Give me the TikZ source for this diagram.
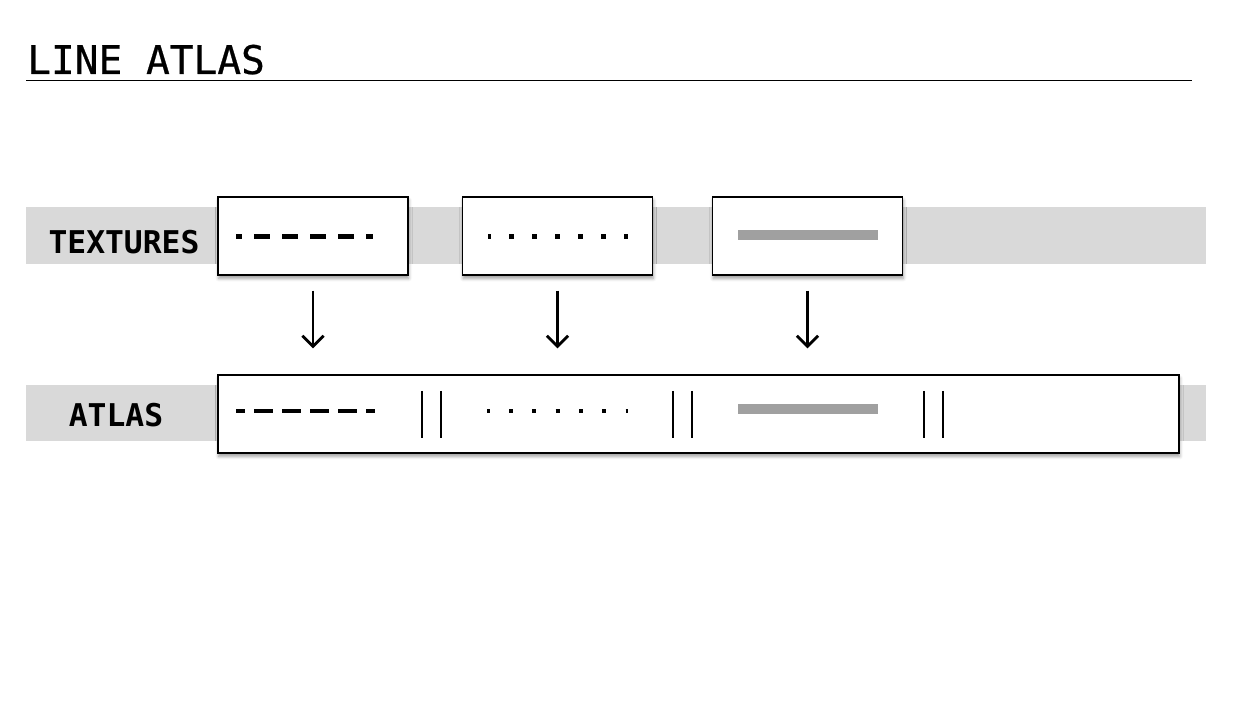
\documentclass[tikz,border=0pt]{standalone}
\usepackage{fontspec}
\setmonofont{DejaVu Sans Mono}
\newfontfamily\titlefont[FakeBold=0.6]{DejaVu Sans Mono}
\usetikzlibrary{arrows.meta}
\usetikzlibrary{shadows.blur}
\usetikzlibrary{calc}
\definecolor{bandgray}{HTML}{D9D9D9}
\definecolor{bargray}{HTML}{A0A0A0}

\begin{document}
\begin{tikzpicture}[x=0.75pt,y=0.75pt,yscale=-1,xscale=1,
  band/.style={fill=bandgray, draw=none},
  texbox/.style={draw, line width=0.9pt, fill=white, inner sep=0pt, minimum width=142.5pt, minimum height=58.5pt, blur shadow={shadow xshift=0.5pt, shadow yshift=-2.5pt, shadow blur radius=2.5pt, shadow opacity=40}},
  rowlabel/.style={anchor=base, inner sep=0pt, font=\ttfamily\bfseries\fontsize{23.5}{26}\selectfont},
  feed/.style={-{Straight Barb[length=8pt,width=16pt]}, line width=2.1pt},
  sep/.style={line width=1pt}
]
\useasboundingbox (0,0) rectangle (1240,720);
% Text Node
\draw (27,74) node [anchor=base west][inner sep=0pt] (title) {\titlefont\fontsize{29.6}{32}\selectfont LINE ATLAS};
%Straight Lines
\draw [line width=0.75pt]   (26,81) -- (1192,81) ;
%Shape: Rectangle
\fill [band] (26,207) rectangle (1206,264) ;
\fill [band] (26,385) rectangle (1206,441) ;
% Text Node
\node [rowlabel] (texlabel) at (124,254) {TEXTURES};
\node [rowlabel] (atlaslabel) at (116,427) {ATLAS};
%Shape: Rectangle
\node [texbox] (dashes) at (313,236) {};
\node [texbox] (dots) at (557.5,236) {};
\node [texbox] (solid) at (807.5,236) {};
\node [texbox, minimum width=720.75pt] (atlas) at (698.5,414) {};
%Straight Lines
\draw [line width=3.75pt, dash pattern=on 12pt off 9pt, dash phase=7.5pt]   (236,237) -- (373,237) ;
\draw [line width=3.75pt, dash pattern=on 3.75pt off 13.5pt, dash phase=1.5pt]   (488,237) -- (628,237) ;
\fill [bargray] (738,230) rectangle (878,240) ;
%Straight Lines
\draw [line width=3pt, dash pattern=on 14.25pt off 6.75pt, dash phase=7.5pt]   (236,411) -- (375,411) ;
\draw [line width=3pt, dash pattern=on 3pt off 14.5pt, dash phase=1pt]   (487,411) -- (628,411) ;
\fill [bargray] (738,404) rectangle (878,414) ;
\foreach \x in {422,441,673,692,924,943}
  \draw [sep]   (\x,391) -- (\x,438) ;
%Straight Lines
\draw [feed, shorten <=11.25pt, shorten >=19.5pt]   (dashes.south) -- (dashes.south |- atlas.north) ;
\draw [feed, shorten <=11.25pt, shorten >=19.5pt]   (dots.south) -- (dots.south |- atlas.north) ;
\draw [feed, shorten <=11.25pt, shorten >=19.5pt]   (solid.south) -- (solid.south |- atlas.north) ;
\end{tikzpicture}
\end{document}
